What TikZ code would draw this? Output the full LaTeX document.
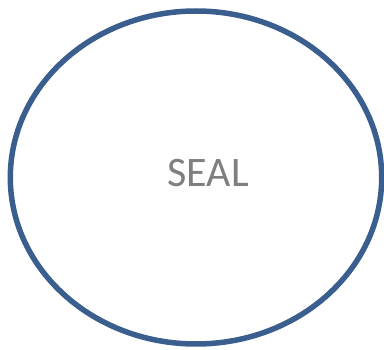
\documentclass[tikz,border=0pt]{standalone}
\usepackage{fontspec}
\setmainfont{Carlito}
\definecolor{sealblue}{HTML}{3A5F8F}
\definecolor{sealgray}{HTML}{7F7F7F}
\begin{document}
\begin{tikzpicture}[x=1pt,y=-1pt,
  sealshape/.style={draw=sealblue,line width=5.5pt,fill=white},
  sealtext/.style={text=sealgray,font=\fontsize{42}{48}\selectfont,inner sep=0pt}]
\useasboundingbox (0,0) rectangle (384,350);
\draw[sealshape] (196,177.5) ellipse [x radius=185.7, y radius=166.5];
\node[sealtext] (seal) at (208,173) {SEAL};
\end{tikzpicture}
\end{document}
